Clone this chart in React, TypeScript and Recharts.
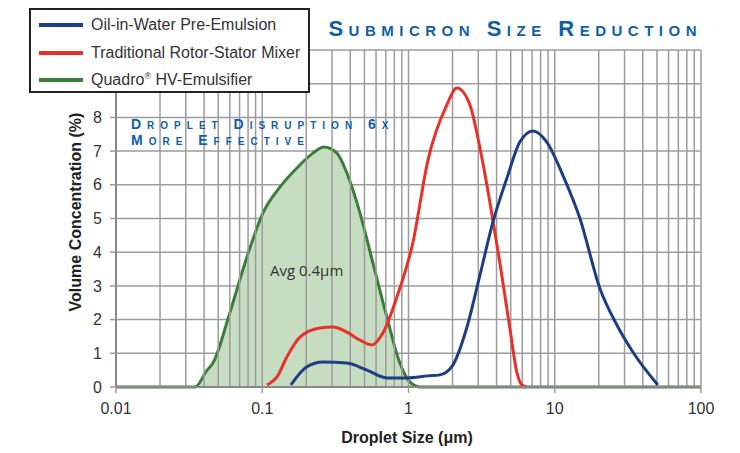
import { ComposedChart, Area, Line, XAxis, YAxis, CartesianGrid, ReferenceLine } from 'recharts';

// droplet size (µm) / volume concentration (%)
const quadroSize = [0.01, 0.0347, 0.042, 0.046, 0.06, 0.0786, 0.101, 0.132, 0.1726, 0.222, 0.264, 0.324, 0.379, 0.466, 0.571, 0.711, 0.873, 1.02, 1.2, 100];
const quadroConc = [0, 0, 0.5, 0.71, 2.2, 3.86, 5.16, 5.93, 6.5, 6.94, 7.12, 6.94, 6.35, 5.16, 3.68, 2.08, 0.71, 0.15, 0, 0];

const rotorSize = [0.1077, 0.126, 0.1476, 0.181, 0.248, 0.304, 0.379, 0.466, 0.562, 0.668, 0.833, 1.07, 1.36, 1.83, 2.14, 2.63, 3.08, 3.6, 4.21, 4.93, 5.5, 5.96, 6.4];
const rotorConc = [0.06, 0.3, 0.9, 1.48, 1.75, 1.78, 1.63, 1.39, 1.25, 1.6, 2.67, 4.27, 6.74, 8.37, 8.87, 8.37, 7.09, 5.49, 3.7, 1.75, 0.45, 0.06, 0];

const preSize = [0.157, 0.202, 0.26, 0.379, 0.52, 0.711, 0.975, 1.36, 1.64, 2.01, 2.5, 3.08, 3.78, 4.71, 5.77, 7.08, 8.83, 11.35, 14.85, 20.3, 26.6, 34.2, 50.7];
const preConc = [0.06, 0.6, 0.74, 0.71, 0.5, 0.27, 0.27, 0.33, 0.36, 0.65, 1.75, 3.32, 4.9, 6.2, 7.27, 7.6, 7.27, 6.29, 5.01, 2.94, 1.84, 1.04, 0.06];

const xTicks = [0.01, 0.1, 1, 10, 100];
const yTicks = [0, 1, 2, 3, 4, 5, 6, 7, 8, 9, 10];
const gridX = [0.01, 0.1, 1, 10].flatMap(d => [2, 3, 4, 5, 6, 7, 8, 9, 10].map(m => +(m * d).toPrecision(3)));

const seriesNames = ['Oil-in-Water Pre-Emulsion', 'Traditional Rotor-Stator Mixer', 'Quadro® HV-Emulsifier'];
const seriesColors = ['#1d3f82', '#e63229', '#3c7d3a'];

const zip = (xs: number[], ys: number[]) => xs.map((x, i) => ({ x, y: ys[i] }));

const font = '"Liberation Sans", Arial, sans-serif';
const grid = '#9c9c9c';

export default function App() {
  const quadro = zip(quadroSize, quadroConc);
  const rotor = zip(rotorSize, rotorConc);
  const pre = zip(preSize, preConc);

  const note = { position: 'absolute' as const, left: 131, fontSize: 14, lineHeight: '14px', fontWeight: 'bold' as const, fontVariant: 'small-caps', letterSpacing: 6, color: '#0f5fa8', whiteSpace: 'nowrap' as const };

  return (
    <div style={{ position: 'absolute', left: 0, top: 0, width: 740, height: 453, background: '#fff', fontFamily: font }}>
      <ComposedChart width={740} height={453} margin={{ top: 50, right: 39, bottom: 36, left: 0 }}>
        <CartesianGrid stroke={grid} strokeWidth={1.5} horizontalValues={yTicks} vertical={false} />
        {gridX.map(v => (
          <ReferenceLine key={v} x={v} stroke={grid} strokeWidth={1.5} />
        ))}
        <XAxis
          dataKey="x"
          type="number"
          scale="log"
          domain={[0.01, 100]}
          ticks={xTicks}
          height={30}
          allowDataOverflow
          tickFormatter={(v: number) => String(v)}
          tick={{ fontSize: 16, fill: '#333', fontFamily: font }}
          tickSize={6}
          tickMargin={10}
          tickLine={{ stroke: grid, strokeWidth: 1.5 }}
          axisLine={{ stroke: '#888', strokeWidth: 2 }}
        />
        <YAxis
          type="number"
          domain={[0, 10]}
          ticks={yTicks}
          tickFormatter={(v: number) => (v > 8 ? '' : String(v))}
          width={116}
          tick={{ fontSize: 16, fill: '#333', fontFamily: font }}
          tickSize={6}
          tickMargin={8}
          tickLine={{ stroke: grid, strokeWidth: 1.5 }}
          axisLine={{ stroke: '#888', strokeWidth: 2 }}
        />
        <Area
          data={quadro}
          dataKey="y"
          type="monotone"
          stroke={seriesColors[2]}
          strokeWidth={3}
          fill="#c7ddc1"
          fillOpacity={1}
          isAnimationActive={false}
          dot={false}
        />
        <Line
          data={rotor}
          dataKey="y"
          type="monotone"
          stroke={seriesColors[1]}
          strokeWidth={3}
          dot={false}
          isAnimationActive={false}
        />
        <Line
          data={pre}
          dataKey="y"
          type="monotone"
          stroke={seriesColors[0]}
          strokeWidth={3}
          dot={false}
          isAnimationActive={false}
        />
      </ComposedChart>

      {/* title */}
      <div style={{ position: 'absolute', right: 38, top: 16, fontSize: 22, fontWeight: 'bold', fontVariant: 'small-caps', letterSpacing: 5.5, color: '#0f5fa8', whiteSpace: 'nowrap' }}>
        Submicron Size Reduction
      </div>

      {/* annotation */}
      <div style={{ ...note, top: 117 }}>Droplet Disruption 6x</div>
      <div style={{ ...note, top: 133 }}>More Effective</div>

      <div style={{ position: 'absolute', left: 270, top: 260, fontSize: 15, color: '#333', fontFamily: '"Open Sans", sans-serif', whiteSpace: 'nowrap' }}>
        Avg 0.4μm
      </div>

      {/* axis titles */}
      <div style={{ position: 'absolute', left: 337, top: 429, width: 140, textAlign: 'center', fontSize: 16, fontWeight: 'bold', color: '#222', whiteSpace: 'nowrap' }}>
        Droplet Size (μm)
      </div>
      <div style={{ position: 'absolute', left: 76, top: 212, transform: 'translate(-50%, -50%) rotate(-90deg)', fontSize: 16, fontWeight: 'bold', color: '#222', whiteSpace: 'nowrap' }}>
        Volume Concentration (%)
      </div>

      {/* legend */}
      <div style={{ position: 'absolute', left: 29, top: 8, width: 277, height: 81, border: '2px solid #222', background: '#fff' }}>
        {seriesNames.map((name, i) => (
          <div key={name} style={{ position: 'absolute', left: 0, top: 4 + i * 27.5, height: 22, display: 'flex', alignItems: 'center' }}>
            <span style={{ display: 'inline-block', marginLeft: 8, width: 44, height: 4, background: seriesColors[i] }} />
            <span style={{ marginLeft: 8, fontSize: 16, color: '#333', whiteSpace: 'nowrap' }}>
              {name.includes('®') ? (<>Quadro<sup style={{ fontSize: 9 }}>®</sup> HV-Emulsifier</>) : name}
            </span>
          </div>
        ))}
      </div>
    </div>
  );
}
